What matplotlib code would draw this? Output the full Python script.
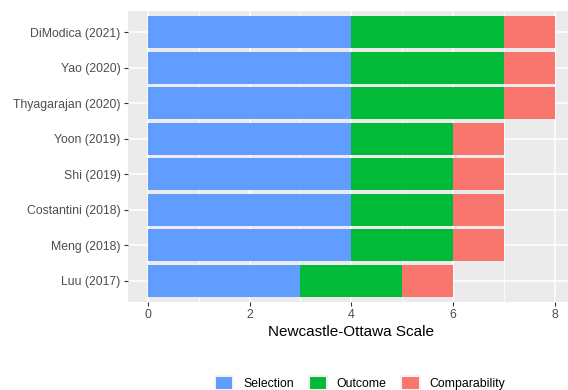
"""
Stacked Newcastle-Ottawa scores per study, ggplot-like look
"""
import matplotlib
matplotlib.use("Agg")
import matplotlib.pyplot as plt
from matplotlib.patches import Patch
import numpy as np

studies = ["DiModica (2021)", "Yao (2020)", "Thyagarajan (2020)", "Yoon (2019)",
           "Shi (2019)", "Costantini (2018)", "Meng (2018)", "Luu (2017)"]
selection = [4, 4, 4, 4, 4, 4, 4, 3]
outcome = [3, 3, 3, 2, 2, 2, 2, 2]
comparability = [1, 1, 1, 1, 1, 1, 1, 1]

components = ["Selection", "Outcome", "Comparability"]
colors = ["#619CFF", "#00BA38", "#F8766D"]

plt.rcParams["font.family"] = ["Liberation Sans", "DejaVu Sans"]

fig = plt.figure(figsize=(5.68, 3.9), dpi=100)
ax = fig.add_axes([0.2246, 0.2256, 0.7877, 0.7462])
ax.set_facecolor("#EBEBEB")

# first study on top
ypos = np.arange(len(studies))[::-1] + 1
left = np.zeros(len(studies))
for vals, col in zip([selection, outcome, comparability], colors):
    ax.barh(ypos, vals, left=left, height=0.9, color=col, zorder=3)
    left += np.array(vals)

ax.set_xlim(-0.4, 8.4)
ax.set_ylim(0.4, len(studies) + 0.6)
ax.set_xticks([0, 2, 4, 6, 8])
ax.set_xticks([1, 3, 5, 7], minor=True)
ax.set_yticks(ypos)
ax.set_yticklabels(studies)

ax.grid(which="major", color="white", linewidth=1.1, zorder=0)
ax.grid(which="minor", axis="x", color="white", linewidth=0.55, zorder=0)
ax.set_axisbelow(True)
for s in ax.spines.values():
    s.set_visible(False)

ax.tick_params(which="major", length=3, width=0.8, color="#333333",
               labelcolor="#4D4D4D", labelsize=8.8, pad=2)
ax.tick_params(which="minor", length=0)
ax.set_xlabel("Newcastle-Ottawa Scale", fontsize=11, color="black", labelpad=3)

handles = [Patch(facecolor=c, edgecolor="#F2F2F2", linewidth=1.5) for c in colors]
fig.legend(handles, components, loc="center", bbox_to_anchor=(0.634, 0.018), ncol=3,
           frameon=False, fontsize=8.8, handlelength=1.5, handleheight=1.5,
           columnspacing=1.2, handletextpad=0.8)

fig.savefig("out.png", dpi=100)
